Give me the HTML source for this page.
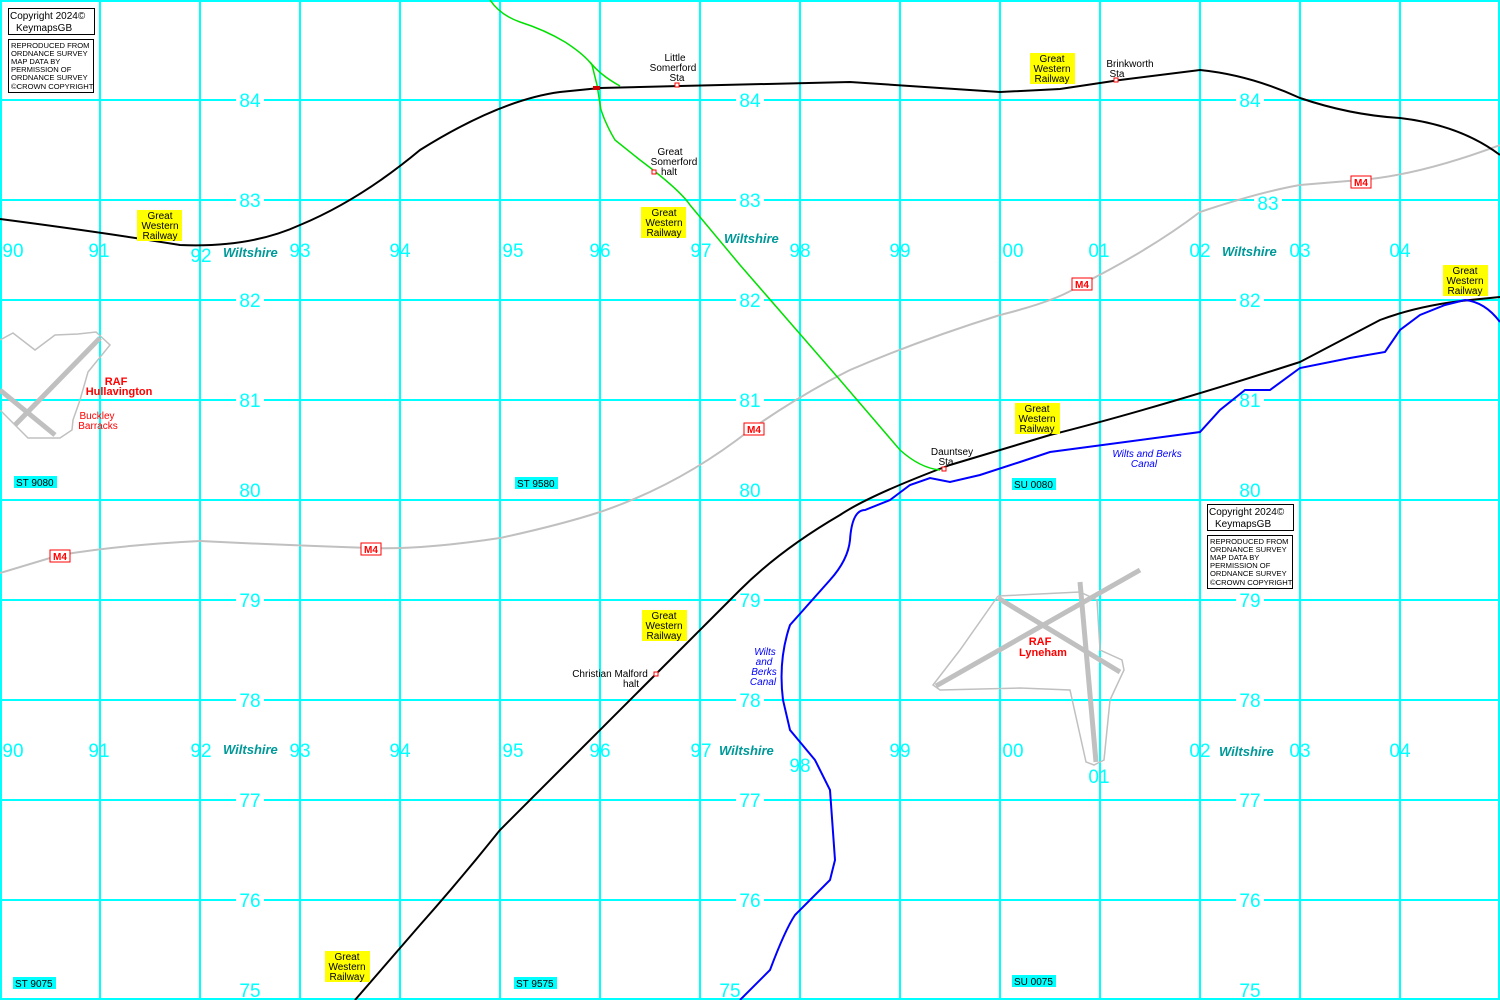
<!DOCTYPE html>
<html><head><meta charset="utf-8"><style>
html,body{margin:0;padding:0;background:#fff;}
svg{display:block}
text{font-family:"Liberation Sans",sans-serif;}
.g{fill:#00ffff;font-size:19px;}
.w{fill:#009999;font-size:13px;font-weight:bold;font-style:italic;}
</style></head><body>
<svg width="1500" height="1000" viewBox="0 0 1500 1000" xmlns="http://www.w3.org/2000/svg">
<rect width="1500" height="1000" fill="#fff"/>
<g stroke="#00ffff" stroke-width="2">
<line x1="1" y1="0" x2="1" y2="1000"/><line x1="100" y1="0" x2="100" y2="1000"/><line x1="200" y1="0" x2="200" y2="1000"/><line x1="300" y1="0" x2="300" y2="1000"/><line x1="400" y1="0" x2="400" y2="1000"/><line x1="500" y1="0" x2="500" y2="1000"/><line x1="600" y1="0" x2="600" y2="1000"/><line x1="700" y1="0" x2="700" y2="1000"/><line x1="800" y1="0" x2="800" y2="1000"/><line x1="900" y1="0" x2="900" y2="1000"/><line x1="1000" y1="0" x2="1000" y2="1000"/><line x1="1100" y1="0" x2="1100" y2="1000"/><line x1="1200" y1="0" x2="1200" y2="1000"/><line x1="1300" y1="0" x2="1300" y2="1000"/><line x1="1400" y1="0" x2="1400" y2="1000"/><line x1="1499" y1="0" x2="1499" y2="1000"/>
<line x1="0" y1="1" x2="1500" y2="1"/><line x1="0" y1="100" x2="1500" y2="100"/><line x1="0" y1="200" x2="1500" y2="200"/><line x1="0" y1="300" x2="1500" y2="300"/><line x1="0" y1="400" x2="1500" y2="400"/><line x1="0" y1="500" x2="1500" y2="500"/><line x1="0" y1="600" x2="1500" y2="600"/><line x1="0" y1="700" x2="1500" y2="700"/><line x1="0" y1="800" x2="1500" y2="800"/><line x1="0" y1="900" x2="1500" y2="900"/><line x1="0" y1="999" x2="1500" y2="999"/>
</g>
<g fill="#fff" stroke="none"><rect x="236" y="90" width="28" height="20"/><rect x="736" y="90" width="28" height="20"/><rect x="1236" y="90" width="28" height="20"/>
<rect x="236" y="190" width="28" height="20"/><rect x="736" y="190" width="28" height="20"/><rect x="1254" y="192" width="28" height="20"/>
<rect x="236" y="290" width="28" height="20"/><rect x="736" y="290" width="28" height="20"/><rect x="1236" y="290" width="28" height="20"/>
<rect x="236" y="390" width="28" height="20"/><rect x="736" y="390" width="28" height="20"/><rect x="1236" y="390" width="28" height="20"/>
<rect x="236" y="590" width="28" height="20"/><rect x="736" y="590" width="28" height="20"/><rect x="1236" y="590" width="28" height="20"/>
<rect x="236" y="690" width="28" height="20"/><rect x="736" y="690" width="28" height="20"/><rect x="1236" y="690" width="28" height="20"/>
<rect x="236" y="790" width="28" height="20"/><rect x="736" y="790" width="28" height="20"/><rect x="1236" y="790" width="28" height="20"/>
<rect x="236" y="890" width="28" height="20"/><rect x="736" y="890" width="28" height="20"/><rect x="1236" y="890" width="28" height="20"/>
</g>
<g fill="none" stroke="#c0c0c0" stroke-width="1.5">
<path d="M0,340 L13,333 L35,350 L55,335 L78,334 L96,332 L110,345 L88,372 L80,400 L73,420 L72,430 L60,438 L28,438 L0,410"/>
<path d="M998,596 L1080,592 L1097,600 L1100,650 L1122,660 L1124,670 L1110,700 L1104,760 L1094,765 L1086,762 L1070,690 L1020,688 L940,690 L933,685 L960,650 L998,596"/>
</g>
<g stroke="#c0c0c0" stroke-width="5">
<line x1="100" y1="338" x2="15" y2="425"/><line x1="0" y1="390" x2="55" y2="435"/>
<line x1="1140" y1="570" x2="936" y2="686"/><line x1="998" y1="598" x2="1120" y2="672"/><line x1="1080" y1="582" x2="1096" y2="762"/>
</g>
<path d="M0,573 L60,555 Q120,545 200,541 Q280,545 370,548 Q420,550 500,538 Q560,525 600,512 Q680,485 750,430 Q800,395 850,370 Q920,340 1000,315 Q1060,300 1080,285 Q1150,250 1200,212 Q1260,192 1300,185 L1360,180 Q1420,175 1500,145" fill="none" stroke="#c0c0c0" stroke-width="2"/>
<g fill="none" stroke="#000" stroke-width="2">
<path d="M0,219 Q100,232 180,245 Q250,248 300,225 Q360,200 420,150 Q500,100 560,92 L600,88 L680,86 L850,82 L1000,92 L1060,89 L1120,80 L1200,70 Q1250,75 1300,98 Q1350,115 1400,118 Q1460,125 1500,155"/>
<path d="M1500,297 L1470,300 Q1420,305 1380,320 L1300,362 Q1150,410 1050,435 L950,465 Q870,495 840,515 Q780,550 740,590 L640,690 Q560,770 500,830 Q460,880 420,925 L355,1000"/>
</g>
<g fill="none" stroke="#00e000" stroke-width="1.5">
<path d="M490,0 Q500,15 520,22 Q545,30 565,42 Q585,55 592,65 L597,85 L601,110 Q606,125 615,140 L640,160 Q680,190 690,205 L740,265 L840,380 L900,450 Q920,468 940,470"/>
<path d="M590,62 Q600,75 620,86"/>
</g>
<path d="M740,1000 L770,970 Q785,930 795,915 L830,880 L835,860 L830,790 L815,760 L790,730 L783,700 Q778,660 790,625 L830,580 Q848,560 850,540 Q852,510 865,510 L890,500 L910,485 L930,478 L950,482 L980,475 L1020,462 L1050,452 L1200,432 L1220,410 L1245,390 L1270,390 L1300,368 L1350,358 L1385,352 L1400,330 L1420,315 L1445,305 L1465,300 Q1485,302 1500,322" fill="none" stroke="#0000ff" stroke-width="2"/>
<g fill="#fff" stroke="#f00" stroke-width="1"><rect x="675" y="83" width="4" height="4"/><rect x="652" y="170" width="4" height="4"/><rect x="1114" y="78" width="4" height="4"/><rect x="942" y="467" width="4" height="4"/><rect x="654" y="672" width="4" height="4"/></g>
<rect x="593" y="86" width="7" height="4" fill="#d00000"/>
<g class="g" text-anchor="middle">
<text x="250" y="107">84</text><text x="750" y="107">84</text><text x="1250" y="107">84</text>
<text x="250" y="207">83</text><text x="750" y="207">83</text><text x="1268" y="210">83</text>
<text x="250" y="307">82</text><text x="750" y="307">82</text><text x="1250" y="307">82</text>
<text x="250" y="407">81</text><text x="750" y="407">81</text><text x="1250" y="407">81</text>
<text x="250" y="497">80</text><text x="750" y="497">80</text><text x="1250" y="497">80</text>
<text x="250" y="607">79</text><text x="750" y="607">79</text><text x="1250" y="607">79</text>
<text x="250" y="707">78</text><text x="750" y="707">78</text><text x="1250" y="707">78</text>
<text x="250" y="807">77</text><text x="750" y="807">77</text><text x="1250" y="807">77</text>
<text x="250" y="907">76</text><text x="750" y="907">76</text><text x="1250" y="907">76</text>
<text x="250" y="997">75</text><text x="730" y="997">75</text><text x="1250" y="997">75</text>
<text x="13" y="257">90</text><text x="99" y="257">91</text><text x="201" y="262">92</text><text x="300" y="257">93</text><text x="400" y="257">94</text><text x="513" y="257">95</text><text x="600" y="257">96</text><text x="701" y="257">97</text><text x="800" y="257">98</text><text x="900" y="257">99</text><text x="1013" y="257">00</text><text x="1099" y="257">01</text><text x="1200" y="257">02</text><text x="1300" y="257">03</text><text x="1400" y="257">04</text>
<text x="13" y="757">90</text><text x="99" y="757">91</text><text x="201" y="757">92</text><text x="300" y="757">93</text><text x="400" y="757">94</text><text x="513" y="757">95</text><text x="600" y="757">96</text><text x="701" y="757">97</text><text x="800" y="772">98</text><text x="900" y="757">99</text><text x="1013" y="757">00</text><text x="1099" y="783">01</text><text x="1200" y="757">02</text><text x="1300" y="757">03</text><text x="1400" y="757">04</text>
</g>
<g class="w"><text x="223" y="257">Wiltshire</text><text x="724" y="243">Wiltshire</text><text x="1222" y="256">Wiltshire</text><text x="223" y="754">Wiltshire</text><text x="719" y="755">Wiltshire</text><text x="1219" y="756">Wiltshire</text></g>
<g font-size="10" text-anchor="middle">
<rect x="137" y="210" width="45" height="31" fill="#ff0"/><text x="160" y="219">Great</text><text x="160" y="229">Western</text><text x="160" y="239">Railway</text>
<rect x="641" y="207" width="45" height="31" fill="#ff0"/><text x="664" y="216">Great</text><text x="664" y="226">Western</text><text x="664" y="236">Railway</text>
<rect x="1030" y="53" width="45" height="31" fill="#ff0"/><text x="1052" y="62">Great</text><text x="1052" y="72">Western</text><text x="1052" y="82">Railway</text>
<rect x="1015" y="403" width="45" height="31" fill="#ff0"/><text x="1037" y="412">Great</text><text x="1037" y="422">Western</text><text x="1037" y="432">Railway</text>
<rect x="1443" y="265" width="45" height="31" fill="#ff0"/><text x="1465" y="274">Great</text><text x="1465" y="284">Western</text><text x="1465" y="294">Railway</text>
<rect x="642" y="610" width="45" height="31" fill="#ff0"/><text x="664" y="619">Great</text><text x="664" y="629">Western</text><text x="664" y="639">Railway</text>
<rect x="325" y="951" width="45" height="31" fill="#ff0"/><text x="347" y="960">Great</text><text x="347" y="970">Western</text><text x="347" y="980">Railway</text>
<text x="675" y="61">Little</text><text x="673" y="71">Somerford</text><text x="677" y="81">Sta</text>
<text x="670" y="155">Great</text><text x="674" y="165">Somerford</text><text x="669" y="175">halt</text>
<text x="1130" y="67">Brinkworth</text><text x="1117" y="77">Sta</text>
<text x="952" y="455">Dauntsey</text><text x="946" y="465">Sta</text>
<text x="610" y="677">Christian Malford</text><text x="631" y="687">halt</text>
</g>
<g font-size="10" font-style="italic" fill="#0000ff" text-anchor="middle">
<text x="1147" y="457">Wilts and Berks</text><text x="1144" y="467">Canal</text>
<text x="765" y="655">Wilts</text><text x="764" y="665">and</text><text x="764" y="675">Berks</text><text x="763" y="685">Canal</text>
</g>
<g fill="#f00" text-anchor="middle" font-size="11">
<text x="116" y="385" font-weight="bold">RAF</text><text x="119" y="395" font-weight="bold">Hullavington</text>
<text x="97" y="419" font-size="10">Buckley</text><text x="98" y="429" font-size="10">Barracks</text>
<text x="1040" y="645" font-weight="bold">RAF</text><text x="1043" y="656" font-weight="bold">Lyneham</text>
</g>
<g font-size="10" font-weight="bold" fill="#f00" text-anchor="middle">
<rect x="50" y="550" width="20" height="12" fill="#fff" stroke="#f00"/><text x="60" y="560">M4</text>
<rect x="361" y="543" width="20" height="12" fill="#fff" stroke="#f00"/><text x="371" y="553">M4</text>
<rect x="744" y="423" width="20" height="12" fill="#fff" stroke="#f00"/><text x="754" y="433">M4</text>
<rect x="1072" y="278" width="20" height="12" fill="#fff" stroke="#f00"/><text x="1082" y="288">M4</text>
<rect x="1351" y="176" width="20" height="12" fill="#fff" stroke="#f00"/><text x="1361" y="186">M4</text>
</g>
<g font-size="10">
<rect x="14" y="476" width="43" height="12" fill="#00ffff"/><text x="16" y="486">ST 9080</text>
<rect x="515" y="477" width="43" height="12" fill="#00ffff"/><text x="517" y="487">ST 9580</text>
<rect x="1012" y="478" width="44" height="12" fill="#00ffff"/><text x="1014" y="488">SU 0080</text>
<rect x="13" y="977" width="43" height="12" fill="#00ffff"/><text x="15" y="987">ST 9075</text>
<rect x="514" y="977" width="43" height="12" fill="#00ffff"/><text x="516" y="987">ST 9575</text>
<rect x="1012" y="975" width="44" height="12" fill="#00ffff"/><text x="1014" y="985">SU 0075</text>
</g>
<g fill="#fff" stroke="#000" stroke-width="1">
<rect x="8.5" y="8.5" width="86" height="26"/><rect x="8.5" y="39.5" width="85" height="53"/>
<rect x="1207.5" y="504.5" width="86" height="26"/><rect x="1207.5" y="535.5" width="85" height="53"/>
</g>
<g font-size="10">
<text x="10" y="19">Copyright 2024©</text><text x="16" y="31">KeymapsGB</text>
<g font-size="7.6"><text x="11" y="48">REPRODUCED FROM</text><text x="11" y="56">ORDNANCE SURVEY</text><text x="11" y="64">MAP DATA BY</text><text x="11" y="72">PERMISSION OF</text><text x="11" y="80">ORDNANCE SURVEY</text><text x="11" y="89">©CROWN COPYRIGHT</text></g>
<text x="1209" y="515">Copyright 2024©</text><text x="1215" y="527">KeymapsGB</text>
<g font-size="7.6"><text x="1210" y="544">REPRODUCED FROM</text><text x="1210" y="552">ORDNANCE SURVEY</text><text x="1210" y="560">MAP DATA BY</text><text x="1210" y="568">PERMISSION OF</text><text x="1210" y="576">ORDNANCE SURVEY</text><text x="1210" y="585">©CROWN COPYRIGHT</text></g>
</g>
</svg>
</body></html>
